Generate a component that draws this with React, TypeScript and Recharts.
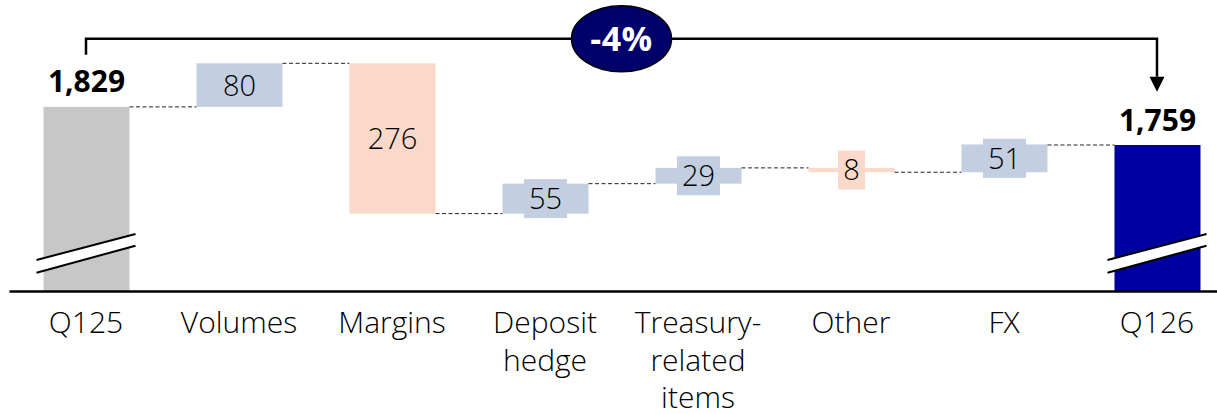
import React from 'react';
import { BarChart, Bar, XAxis, YAxis, ReferenceLine } from 'recharts';

// ---------- data ----------
const categories = ['Q125', 'Volumes', 'Margins', 'Deposit\nhedge', 'Treasury-\nrelated\nitems', 'Other', 'FX', 'Q126'];
const startTotal = 1829;
const endTotal = 1759;
const deltas = [80, -276, 55, 29, -8, 51]; // Volumes .. FX

// ---------- layout / style ----------
const Y_MIN = 1490;
const Y_MAX = 1990;
const BRACKET_LEVEL = 1954;
const CHART_W = 1234;
const CHART_H = 414;
const MARGIN = { top: 19.2, right: 0.5, bottom: 0, left: 9.5 };
const BAR_SIZE = 86;
const BAND = (CHART_W - MARGIN.left - MARGIN.right) / categories.length;
const GAP = BAND - BAR_SIZE;
const FONT = '"Open Sans", "Noto Sans", sans-serif';
const COLORS: Record<string, string> = {
  start: '#C8C7C8',
  up: '#C3CEE0',
  down: '#FAD9CB',
  end: '#0000A0',
};

const fmt = (v: number) => v.toLocaleString('en-US');

let running = startTotal;
const data = categories.map((cat, i) => {
  if (i === 0) return { cat, range: [Y_MIN, startTotal], kind: 'start', label: fmt(startTotal) };
  if (i === categories.length - 1) return { cat, range: [Y_MIN, endTotal], kind: 'end', label: fmt(endTotal) };
  const d = deltas[i - 1];
  const from = running;
  running += d;
  return {
    cat,
    range: [Math.min(from, running), Math.max(from, running)],
    kind: d >= 0 ? 'up' : 'down',
    label: String(Math.abs(d)),
  };
});

const pctChange = Math.round((endTotal / startTotal - 1) * 100);

// ---------- shapes ----------
const BarShape = (props: any) => {
  const { x, y, width, height, payload, index } = props;
  const kind = payload.kind;
  const fill = COLORS[kind];
  const cx = x + width / 2;
  const isTotal = kind === 'start' || kind === 'end';
  const bottom = y + height;
  const lx1 = x - 7;
  const lx2 = x + width + 6;
  const connectorY = kind === 'up' ? bottom : y;
  const labelFont = 29;
  const boxW = payload.label.length * 16 + 11;
  const boxH = 39;
  const cy = y + height / 2;
  return (
    <g>
      {index > 0 && (
        <line x1={x - GAP} x2={x} y1={connectorY} y2={connectorY} stroke="#222" strokeWidth={1} strokeDasharray="4 2.5" />
      )}
      <rect x={x} y={y} width={width} height={height} fill={fill} />
      {isTotal && (
        <g>
          <polygon
            points={`${lx1},${bottom - 31.5} ${lx2},${bottom - 57.5} ${lx2},${bottom - 45.8} ${lx1},${bottom - 18.8}`}
            fill="#fff"
          />
          <line x1={lx1} y1={bottom - 31.5} x2={lx2} y2={bottom - 57.5} stroke="#000" strokeWidth={2} />
          <line x1={lx1} y1={bottom - 18.8} x2={lx2} y2={bottom - 45.8} stroke="#000" strokeWidth={2} />
          <text x={cx} y={y - 14.5} textAnchor="middle" fontFamily={FONT} fontWeight={700} fontSize={30} fill="#000">
            {payload.label}
          </text>
        </g>
      )}
      {!isTotal && (
        <g>
          {height < boxH && (
            <rect x={cx - boxW / 2} y={cy - boxH / 2} width={boxW} height={boxH} fill={fill} />
          )}
          <text x={cx} y={cy + labelFont * 0.36} textAnchor="middle" fontFamily={FONT} fontWeight={300} fontSize={labelFont} fill="#000">
            {payload.label}
          </text>
        </g>
      )}
    </g>
  );
};

const Tick = (props: any) => {
  const { x, y, payload } = props;
  const lines = String(payload.value).split('\n');
  return (
    <g>
      {lines.map((l, i) => (
        <text key={i} x={x} y={y + 41.5 + i * 37.5} textAnchor="middle" fontFamily={FONT} fontWeight={300} fontSize={30} fill="#000">
          {l}
        </text>
      ))}
    </g>
  );
};

const BracketShape = (props: any) => {
  const { x1, y1, x2 } = props;
  const yy = y1;
  const mx = (x1 + x2) / 2;
  return (
    <g>
      <path d={`M${x1},${yy + 16} V${yy} H${x2} V${yy + 38}`} fill="none" stroke="#000" strokeWidth={2.5} />
      <polygon points={`${x2 - 7.5},${yy + 38} ${x2 + 7.5},${yy + 38} ${x2},${yy + 53}`} fill="#000" />
      <ellipse cx={mx} cy={yy} rx={50} ry={33} fill="#00006A" stroke="#000" strokeWidth={1.5} />
      <text x={mx} y={yy + 12} textAnchor="middle" fontFamily={FONT} fontWeight={700} fontSize={34} letterSpacing={0.5} fill="#fff">
        {`${pctChange}%`}
      </text>
    </g>
  );
};

export default function App() {
  return (
    <div style={{ position: 'absolute', left: 0, top: 0, width: 1217, height: 414, overflow: 'hidden', background: '#fff' }}>
      <BarChart width={CHART_W} height={CHART_H} data={data} margin={MARGIN}>
        <XAxis
          dataKey="cat"
          interval={0}
          height={122.5}
          tickLine={false}
          tickSize={0}
          tickMargin={0}
          axisLine={{ stroke: '#000', strokeWidth: 2.5 }}
          tick={<Tick />}
        />
        <YAxis hide domain={[Y_MIN, Y_MAX]} />
        <Bar dataKey="range" barSize={BAR_SIZE} shape={<BarShape />} isAnimationActive={false} />
        <ReferenceLine
          segment={[{ x: categories[0], y: BRACKET_LEVEL }, { x: categories[categories.length - 1], y: BRACKET_LEVEL }]}
          shape={<BracketShape />}
          ifOverflow="visible"
        />
      </BarChart>
    </div>
  );
}
